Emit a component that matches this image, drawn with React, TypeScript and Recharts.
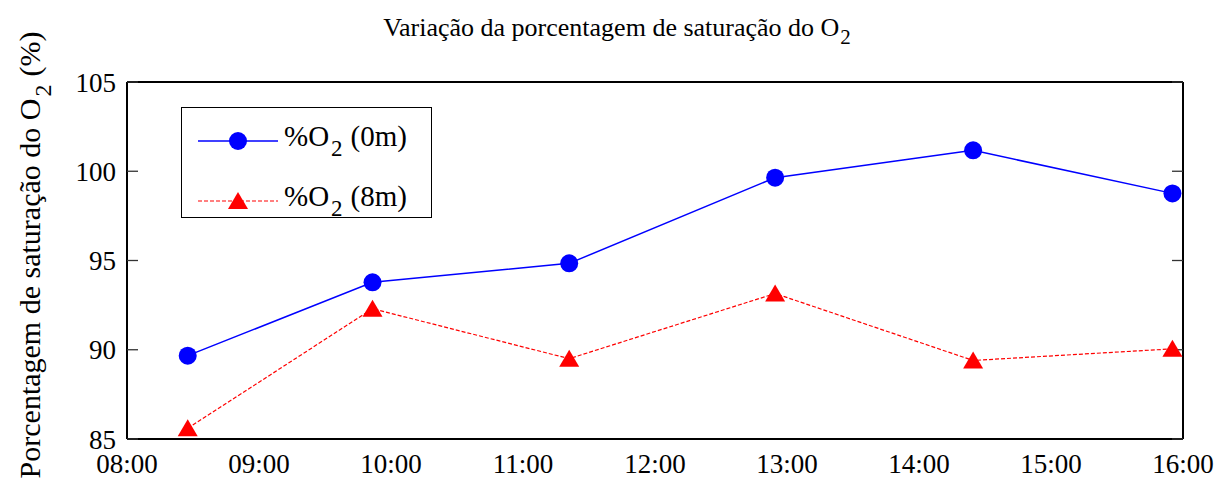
import React from 'react';
import { LineChart, Line, XAxis, YAxis, Legend } from 'recharts';

// horário das medições (horas decimais)
const hours = [8.46, 9.86, 11.35, 12.91, 14.41, 15.92];
const o2Surface = [89.67, 93.78, 94.84, 99.64, 101.17, 98.76];
const o2Depth = [85.6, 92.3, 89.5, 93.15, 89.4, 90.05];
const xTicks = [8, 9, 10, 11, 12, 13, 14, 15, 16];
const yTicks = [85, 90, 95, 100, 105];

const data = hours.map((h, i) => ({ h, s: o2Surface[i], d: o2Depth[i] }));

const FONT = '"Liberation Serif", "DejaVu Serif", serif';
const fmtHour = (v: number) => `${String(v).padStart(2, '0')}:00`;

const XTick = (props: any) => {
    const { x, y, payload } = props;
    return (
        <text x={x} y={y + 13} dy="0.71em" textAnchor="middle" fill="#000" fontSize={27} fontFamily={FONT}>
            {fmtHour(payload.value)}
        </text>
    );
};

const YTick = (props: any) => {
    const { x, y, payload } = props;
    return (
        <text x={x - 9} y={y} dy="0.355em" textAnchor="end" fill="#000" fontSize={27} fontFamily={FONT}>
            {payload.value}
        </text>
    );
};

// só a marca interna, sem rótulo
const NoLabel = () => <g />;

const Triangle = (props: any) => {
    const { cx, cy, index } = props;
    if (cx == null || cy == null) return <g key={index} />;
    return (
        <polygon
            key={index}
            points={`${cx},${cy - 9} ${cx - 10},${cy + 8} ${cx + 10},${cy + 8}`}
            fill="#ff0000"
        />
    );
};

const subStyle = { fontSize: 23, verticalAlign: '-0.45em', marginLeft: 2, marginRight: 8 };

const LegendBox = () => (
    <div
        style={{
            border: '1.5px solid #000',
            background: '#fff',
            width: 251,
            height: 111,
            boxSizing: 'border-box',
            fontFamily: FONT,
            fontSize: 29,
            color: '#000',
            lineHeight: 1,
        }}
    >
        <div style={{ display: 'flex', alignItems: 'center', height: 30, marginTop: 18 }}>
            <svg width={88} height={24} style={{ marginLeft: 14, flex: 'none' }}>
                <line x1={2} y1={12} x2={82} y2={12} stroke="#0000ff" strokeWidth={1.5} />
                <circle cx={42} cy={12} r={9} fill="#0000ff" />
            </svg>
            <span style={{ whiteSpace: 'nowrap' }}>%O<sub style={subStyle}>2</sub>(0m)</span>
        </div>
        <div style={{ display: 'flex', alignItems: 'center', height: 30, marginTop: 30 }}>
            <svg width={88} height={24} style={{ marginLeft: 14, flex: 'none' }}>
                <line x1={2} y1={12} x2={82} y2={12} stroke="#ff0000" strokeWidth={1.2} strokeDasharray="4 2" />
                <polygon points="42,3 32,20 52,20" fill="#ff0000" />
            </svg>
            <span style={{ whiteSpace: 'nowrap' }}>%O<sub style={subStyle}>2</sub>(8m)</span>
        </div>
    </div>
);

export default function App() {
    const tickLineStyle = { stroke: '#333', strokeWidth: 1.3 };
    const boxLine = { stroke: '#000', strokeWidth: 2 };
    return (
        <div style={{ position: 'absolute', left: 0, top: 0, width: 1220, height: 484, background: '#fff', overflow: 'hidden' }}>
            {/* Título */}
            <div
                style={{
                    position: 'absolute',
                    left: 117,
                    width: 1000,
                    top: 13,
                    textAlign: 'center',
                    fontFamily: FONT,
                    fontSize: 26,
                    color: '#000',
                    whiteSpace: 'nowrap',
                }}
            >
                Variação da porcentagem de saturação do O<sub style={{ fontSize: 21, verticalAlign: '-0.4em', marginLeft: 1 }}>2</sub>
            </div>
            {/* Rótulo do eixo Y */}
            <div
                style={{
                    position: 'absolute',
                    left: 30 - 300,
                    top: 255 - 20,
                    width: 600,
                    height: 40,
                    lineHeight: '40px',
                    transform: 'rotate(-90deg)',
                    textAlign: 'center',
                    fontFamily: FONT,
                    fontSize: 30,
                    color: '#000',
                    whiteSpace: 'nowrap',
                }}
            >
                Porcentagem de saturação do O<sub style={{ fontSize: 24, verticalAlign: '-0.45em', marginLeft: 2, marginRight: 8 }}>2</sub>(%)
            </div>
            <div style={{ position: 'absolute', left: 0, top: 0 }}>
                <LineChart width={1220} height={484} data={data} margin={{ top: 82, right: 37, left: 67, bottom: 5 }}>
                    <XAxis
                        xAxisId="main"
                        dataKey="h"
                        type="number"
                        domain={[8, 16]}
                        ticks={xTicks}
                        interval={0}
                        allowDataOverflow
                        tick={<XTick />}
                        tickLine={false}
                        tickSize={0}
                        height={40}
                        axisLine={boxLine}
                    />
                    <XAxis
                        xAxisId="bottomTicks"
                        type="number"
                        domain={[8, 16]}
                        ticks={xTicks}
                        interval={0}
                        allowDataOverflow
                        mirror
                        tick={<NoLabel />}
                        tickSize={11}
                        tickLine={tickLineStyle}
                        axisLine={false}
                    />
                    <XAxis
                        xAxisId="top"
                        orientation="top"
                        type="number"
                        domain={[8, 16]}
                        ticks={xTicks}
                        interval={0}
                        allowDataOverflow
                        mirror
                        tick={<NoLabel />}
                        tickSize={11}
                        tickLine={tickLineStyle}
                        axisLine={boxLine}
                    />
                    <YAxis
                        yAxisId="main"
                        domain={[85, 105]}
                        ticks={yTicks}
                        interval={0}
                        allowDataOverflow
                        tick={<YTick />}
                        tickLine={false}
                        tickSize={0}
                        width={60}
                        axisLine={boxLine}
                    />
                    <YAxis
                        yAxisId="leftTicks"
                        domain={[85, 105]}
                        ticks={yTicks}
                        interval={0}
                        allowDataOverflow
                        mirror
                        tick={<NoLabel />}
                        tickSize={11}
                        tickLine={tickLineStyle}
                        axisLine={false}
                    />
                    <YAxis
                        yAxisId="right"
                        orientation="right"
                        domain={[85, 105]}
                        ticks={yTicks}
                        interval={0}
                        allowDataOverflow
                        mirror
                        tick={<NoLabel />}
                        tickSize={11}
                        tickLine={tickLineStyle}
                        axisLine={boxLine}
                    />
                    <Legend
                        layout="horizontal"
                        verticalAlign="middle"
                        align="center"
                        content={() => <LegendBox />}
                        wrapperStyle={{ position: 'absolute', left: 181, top: 107, width: 251, height: 111 }}
                    />
                    <Line
                        xAxisId="main"
                        yAxisId="main"
                        dataKey="s"
                        name="%O2 (0m)"
                        stroke="#0000ff"
                        strokeWidth={1.5}
                        dot={{ r: 9, fill: '#0000ff', stroke: 'none' }}
                        isAnimationActive={false}
                    />
                    <Line
                        xAxisId="main"
                        yAxisId="main"
                        dataKey="d"
                        name="%O2 (8m)"
                        stroke="#ff0000"
                        strokeWidth={1.2}
                        strokeDasharray="4 2"
                        dot={Triangle}
                        isAnimationActive={false}
                    />
                </LineChart>
            </div>
        </div>
    );
}
